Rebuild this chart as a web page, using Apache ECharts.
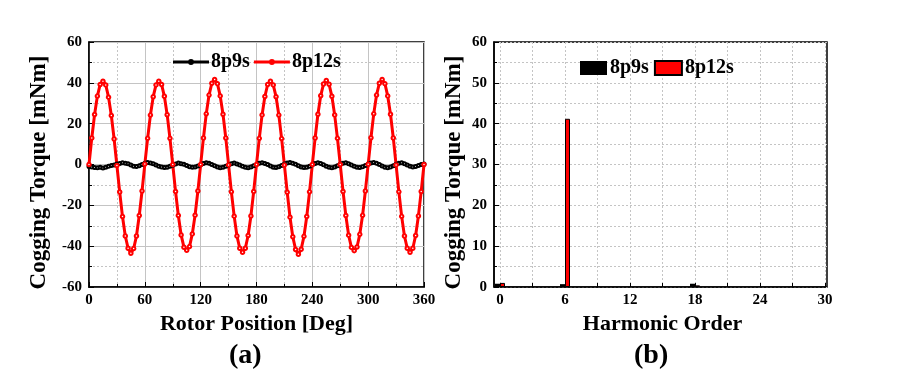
<!DOCTYPE html>
<html>
<head>
<meta charset="utf-8">
<script src="https://cdn.jsdelivr.net/npm/echarts@6/dist/echarts.min.js"></script>
<style>html,body{margin:0;padding:0;background:#fff}#c{width:900px;height:384px}</style>
</head>
<body>
<div id="c"></div>
<script>
// Rotor position (deg), step 3
const positions = [];
for (let i = 0; i <= 120; i++) positions.push(i * 3);

const torque8p9s = [
  -1.0,-1.2,-1.5,-1.6,-1.4,-1.7,-1.3,-0.9,-0.5,-0.2,
   0.3, 0.5, 0.9, 0.6, 0.4,-0.3,-0.8,-1.0,-0.6, 0.0,
   0.6, 1.0, 0.7, 0.4,-0.2,-0.8,-1.2,-1.5,-1.3,-0.9,
  -0.4, 0.2, 0.7, 0.4, 0.1,-0.5,-1.1,-1.4,-1.2,-0.7,
  -0.1, 0.5, 0.8, 0.6, 0.0,-0.6,-1.2,-1.6,-1.3,-0.9,
  -0.2, 0.4, 0.7, 0.3,-0.3,-0.9,-1.4,-1.6,-1.2,-0.6,
   0.0, 0.6, 0.9, 0.5, 0.0,-0.7,-1.3,-1.5,-1.1,-0.5,
   0.2, 0.7, 1.0, 0.6, 0.1,-0.6,-1.2,-1.5,-1.3,-0.8,
  -0.1, 0.5, 0.9, 0.5,-0.1,-0.8,-1.3,-1.6,-1.2,-0.6,
   0.1, 0.6, 0.8, 0.4,-0.2,-0.9,-1.4,-1.5,-1.1,-0.5,
   0.2, 0.7, 1.0, 0.6, 0.0,-0.7,-1.3,-1.6,-1.2,-0.6,
   0.1, 0.6, 0.8, 0.4,-0.2,-0.8,-1.2,-1.0,-0.5, 0.0,
   0.3
];

const torque8p12s = [
   0.0, 13.0, 24.5, 33.5, 39.2, 40.8, 39.0, 33.0, 24.0, 12.5,
  -0.5,-13.5,-25.5,-35.0,-41.0,-43.5,-41.2,-35.0,-25.0,-13.0,
   0.2, 12.8, 24.2, 33.2, 39.0, 40.8, 39.2, 33.4, 24.4, 12.8,
   0.0,-13.2,-25.0,-34.5,-40.5,-42.0,-40.2,-34.0,-24.8,-13.0,
   0.0, 13.0, 24.8, 34.0, 39.8, 41.6, 39.6, 33.6, 24.6, 13.0,
  -0.2,-13.4,-25.3,-35.0,-41.0,-43.0,-41.0,-34.8,-25.2,-13.2,
   0.0, 12.8, 24.3, 33.3, 39.2, 40.8, 39.0, 33.2, 24.2, 12.7,
  -0.3,-13.6,-25.8,-35.4,-41.6,-44.0,-41.5,-35.2,-25.5,-13.4,
   0.0, 13.0, 24.6, 33.7, 39.4, 41.2, 39.3, 33.4, 24.3, 12.8,
   0.0,-13.2,-25.0,-34.6,-40.6,-42.2,-40.4,-34.2,-24.9,-13.0,
   0.1, 13.1, 24.8, 34.0, 39.8, 41.6, 39.6, 33.6, 24.6, 13.0,
  -0.2,-13.4,-25.4,-35.0,-41.0,-43.0,-41.0,-34.8,-25.2,-13.2,
   0.0
];

// Harmonic spectrum
const harmonicOrders = [0, 6, 18];
const harm8p9s = [0.8, 0.7, 0.8];
const harm8p12s = [1.0, 41.2, 0.4];

const FONT = '"Liberation Serif", "Times New Roman", serif';
const labelStyle = {color: '#000', fontFamily: FONT, fontWeight: 'bold', fontSize: 15};
const xNameStyle = {color: '#000', fontFamily: FONT, fontWeight: 'bold', fontSize: 22};
const yNameStyle = {color: '#000', fontFamily: FONT, fontWeight: 'bold', fontSize: 23, padding: [0, 16, 0, 0]};
const GRIDC = '#c4c4c4';

const chart = echarts.init(document.getElementById('c'), null, {renderer: 'canvas'});

const lineA = (d) => positions.map((p, i) => [p, d[i]]);
const barB = (d) => harmonicOrders.map((h, i) => [h, d[i]]);

const lineIcon = 'path://M0,2.5 L36,2.5 L36,5.5 L0,5.5 Z M15,4 A3,3 0 1,1 21,4 A3,3 0 1,1 15,4 Z';

chart.setOption({
  animation: false,
  backgroundColor: '#fff',
  graphic: [
    {type: 'text', left: 229, top: 342, style: {text: '(a)', font: 'bold 28px ' + FONT, fill: '#000'}},
    {type: 'text', left: 634, top: 342, style: {text: '(b)', font: 'bold 28px ' + FONT, fill: '#000'}}
  ],
  legend: [
    {data: [{name: '8p9s', icon: lineIcon}, {name: '8p12s', icon: lineIcon}], left: 168, top: 47, itemWidth: 36, itemHeight: 8, itemGap: 4,
     textStyle: {fontFamily: FONT, fontWeight: 'bold', fontSize: 20, color: '#000', padding: [0,0,0,-3]},
     selectedMode: false},
    {data: [{name: 'B8p9s', icon: 'rect'}, {name: 'B8p12s', icon: 'rect'}], left: 575, top: 53, itemWidth: 27, itemHeight: 14, itemGap: 5,
     formatter: (n) => n.slice(1),
     textStyle: {fontFamily: FONT, fontWeight: 'bold', fontSize: 20, color: '#000', padding: [0,0,0,-2]},
     selectedMode: false}
  ],
  grid: [
    {left: 89, right: 476, top: 42, bottom: 97, show: true, borderColor: '#000', borderWidth: 1.5, backgroundColor: 'transparent'},
    {left: 500, right: 75, top: 42, bottom: 97, show: false},
    {left: 494, right: 73, top: 42, bottom: 97, show: true, borderColor: '#000', borderWidth: 1.5, backgroundColor: 'transparent'}
  ],
  xAxis: [
    {gridIndex: 0, type: 'value', min: 0, max: 360, interval: 60,
     name: 'Rotor Position [Deg]', nameLocation: 'middle', nameGap: 26, nameTextStyle: xNameStyle,
     axisLine: {onZero: false, lineStyle: {color: '#000', width: 1.5}},
     axisTick: {inside: true, length: 5, lineStyle: {color: '#000'}},
     minorTick: {show: true, splitNumber: 2, length: 3, lineStyle: {color: '#000'}},
     axisLabel: Object.assign({margin: 6}, labelStyle),
     splitLine: {show: true, lineStyle: {color: GRIDC, width: 1}},
     minorSplitLine: {show: true, lineStyle: {color: GRIDC, type: [2, 2], width: 1}}},
    {gridIndex: 1, type: 'value', min: 0, max: 30, interval: 3,
     name: 'Harmonic Order', nameLocation: 'middle', nameGap: 26, nameTextStyle: xNameStyle,
     axisLine: {onZero: false, lineStyle: {color: '#000', width: 1.5}},
     axisTick: {inside: true, length: 4, lineStyle: {color: '#000'}},
     axisLabel: Object.assign({margin: 6, formatter: (v) => (v % 6 === 0 ? String(v) : '')}, labelStyle),
     splitLine: {show: true, lineStyle: {color: GRIDC, type: [2, 2], width: 1}}},
    {gridIndex: 2, type: 'value', min: 0, max: 1, show: false}
  ],
  yAxis: [
    {gridIndex: 0, type: 'value', min: -60, max: 60, interval: 20,
     name: 'Cogging Torque [mNm]', nameLocation: 'middle', nameGap: 38, nameTextStyle: yNameStyle,
     axisLine: {onZero: false, lineStyle: {color: '#000', width: 1.5}},
     axisTick: {inside: true, length: 5, lineStyle: {color: '#000'}},
     minorTick: {show: true, splitNumber: 2, length: 3, lineStyle: {color: '#000'}},
     axisLabel: Object.assign({margin: 7}, labelStyle),
     splitLine: {show: true, lineStyle: {color: GRIDC, width: 1}},
     minorSplitLine: {show: true, lineStyle: {color: GRIDC, type: [2, 2], width: 1}}},
    {gridIndex: 1, type: 'value', min: 0, max: 60, interval: 10, show: false},
    {gridIndex: 2, type: 'value', min: 0, max: 60, interval: 10,
     name: 'Cogging Torque [mNm]', nameLocation: 'middle', nameGap: 28, nameTextStyle: yNameStyle,
     axisLine: {onZero: false, lineStyle: {color: '#000', width: 1.5}},
     axisTick: {inside: true, length: 5, lineStyle: {color: '#000'}},
     minorTick: {show: true, splitNumber: 2, length: 3, lineStyle: {color: '#000'}},
     axisLabel: Object.assign({margin: 7}, labelStyle),
     splitLine: {show: true, lineStyle: {color: GRIDC, type: [2, 2], width: 1}},
     minorSplitLine: {show: true, lineStyle: {color: GRIDC, type: [2, 2], width: 1}}}
  ],
  series: [
    {name: '8p9s', type: 'line', xAxisIndex: 0, yAxisIndex: 0, data: lineA(torque8p9s),
     color: '#000', symbol: 'emptyCircle', symbolSize: 3, showAllSymbol: true,
     lineStyle: {width: 3.5, color: '#000'}, itemStyle: {color: '#000', borderWidth: 1}},
    {name: '8p12s', type: 'line', xAxisIndex: 0, yAxisIndex: 0, data: lineA(torque8p12s),
     color: '#ff0000', symbol: 'emptyCircle', symbolSize: 3.5, showAllSymbol: true,
     lineStyle: {width: 3, color: '#ff0000'}, itemStyle: {color: '#ff0000', borderWidth: 1}},
    {name: 'B8p9s', type: 'bar', xAxisIndex: 1, yAxisIndex: 1, data: barB(harm8p9s), clip: false,
     barWidth: 5, barGap: '0%', itemStyle: {color: '#000'}},
    {name: 'B8p12s', type: 'bar', xAxisIndex: 1, yAxisIndex: 1, data: barB(harm8p12s), clip: false,
     barWidth: 5, barGap: '0%', itemStyle: {color: '#ff0000', borderColor: '#000', borderWidth: 1}}
  ]
});
</script>
</body>
</html>
